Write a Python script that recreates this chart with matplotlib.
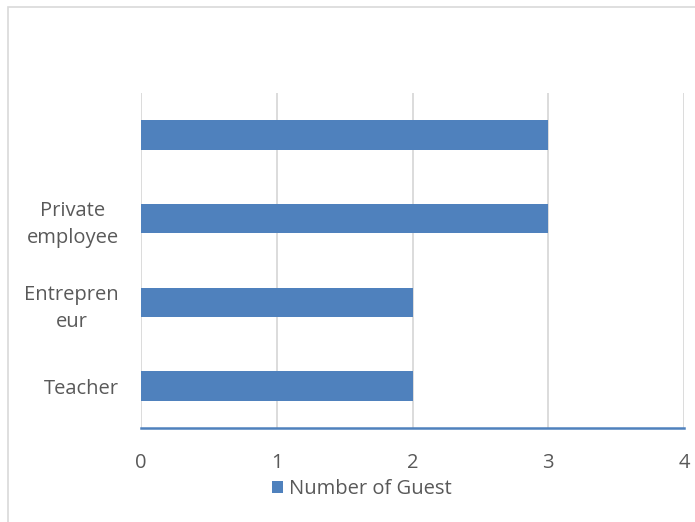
import matplotlib
matplotlib.use("Agg")
import matplotlib.pyplot as plt
from matplotlib.patches import Rectangle

categories = ["Teacher", "Entrepren\neur", "Private\nemployee", ""]
values = [2, 2, 3, 3]
xticks = [0, 1, 2, 3, 4]
series_name = "Number of Guest"

bar_color = "#4f81bd"
text_color = "#595959"
plt.rcParams['font.family'] = ['Open Sans', 'DejaVu Sans']

fig = plt.figure(figsize=(6.95, 5.22), dpi=100)
ax = fig.add_axes([141/695, 1-428/522, (684-141)/695, (428-93)/522])

pos = list(range(len(categories)))
ax.barh(pos, values, height=0.35, color=bar_color, label=series_name, zorder=3)

ax.set_xlim(0, 4)
ax.set_ylim(-0.5, 3.5)
ax.set_xticks(xticks)
ax.set_xticklabels([str(t) for t in xticks])
ax.set_yticks(pos)
ax.set_yticklabels(categories, multialignment='center', linespacing=1.45)
ax.tick_params(axis='both', length=0, labelsize=14.5, colors=text_color)
ax.tick_params(axis='x', pad=18)
ax.tick_params(axis='y', pad=16)
ax.grid(axis='x', color='#d9d9d9', linewidth=1.3, zorder=0)
for s in ['top', 'right', 'left']:
    ax.spines[s].set_visible(False)
ax.spines['bottom'].set_color(bar_color)
ax.spines['bottom'].set_linewidth(1.8)
ax.spines['bottom'].set_zorder(4)

leg = fig.legend(loc='center', bbox_to_anchor=(362/695, 1-489/522), frameon=False,
                 fontsize=14.5, handlelength=0.55, handleheight=0.55, handletextpad=0.3,
                 labelcolor=text_color)

fig.patches.append(Rectangle((8/695, -0.1), 1.2, 1-7/522+0.1, transform=fig.transFigure,
                             fill=False, edgecolor='#d9d9d9', linewidth=1.2))

fig.savefig("out.png", dpi=100)
